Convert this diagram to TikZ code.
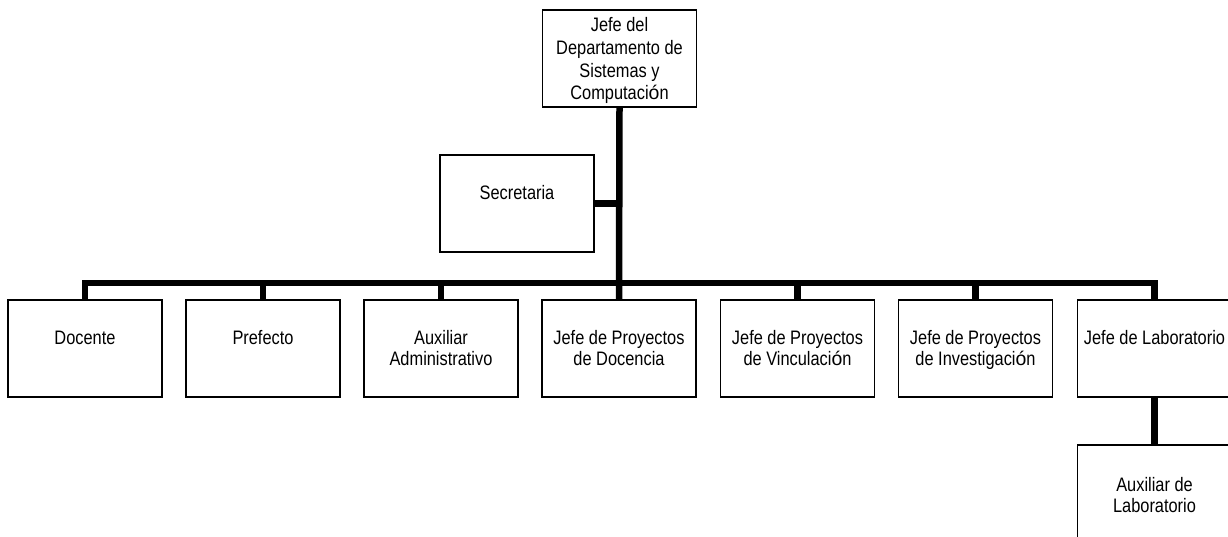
\documentclass[tikz,border=0pt]{standalone}
\usepackage{fontspec}
\setmainfont{Liberation Sans}[FakeStretch=0.84]
\newfontfamily\acento{Liberation Sans}
\usepackage{tikz}
\tikzstyle{puesto}=[draw,line width=1.6pt,inner sep=0pt,font=\fontsize{19.5}{21}\selectfont]
\tikzstyle{linea}=[line width=6.5pt]
\newcommand{\oac}{{\acento ó}}
\newcommand{\caja}[2][30pt]{\parbox[c][97pt][t]{154pt}{\centering\vspace*{#1}\strut#2\strut}}

\begin{document}
\begin{tikzpicture}[x=1pt,y=-1pt]
    \useasboundingbox (0,0) rectangle (1228,536);
    \node[puesto,font=\fontsize{19.5}{22.7}\selectfont] (jefe) at (619.5,58.5)
        {\caja[6pt]{Jefe del\\Departamento de\\Sistemas y\\Computaci\oac n}};
    \node[puesto] (secretaria) at (517,203.5) {\caja{Secretaria}};
    \node[puesto] (docente)    at (85,348.5)   {\caja{Docente}};
    \node[puesto] (prefecto)   at (263,348.5)  {\caja{Prefecto}};
    \node[puesto] (auxadmin)   at (441,348.5)  {\caja{Auxiliar\\Administrativo}};
    \node[puesto] (docencia)   at (619,348.5)  {\caja{Jefe de Proyectos\\de Docencia}};
    \node[puesto] (vinculacion) at (797.5,348.5) {\caja{Jefe de Proyectos\\de Vinculaci\oac n}};
    \node[puesto] (investigacion) at (975.5,348.5) {\caja{Jefe de Proyectos\\de Investigaci\oac n}};
    \node[puesto] (lab)        at (1154.5,348.5) {\caja{Jefe de Laboratorio}};
    \node[puesto] (auxlab)     at (1154.5,493.5) {\caja[32pt]{Auxiliar de\\Laboratorio}};
    \coordinate (bus) at (619,283);
%   tronco y barra
    \draw[linea] (jefe.south) -- (docencia.north);
    \draw[linea] (secretaria.east) -- (secretaria.east -| jefe.south);
    \draw[linea] (docente.north) |- (bus) -| (lab.north);
    \draw[linea] (prefecto.north) -- (prefecto.north |- bus);
    \draw[linea] (auxadmin.north) -- (auxadmin.north |- bus);
    \draw[linea] (vinculacion.north) -- (vinculacion.north |- bus);
    \draw[linea] (investigacion.north) -- (investigacion.north |- bus);
    \draw[linea] (lab.south) -- (auxlab.north);
\end{tikzpicture}
\end{document}
